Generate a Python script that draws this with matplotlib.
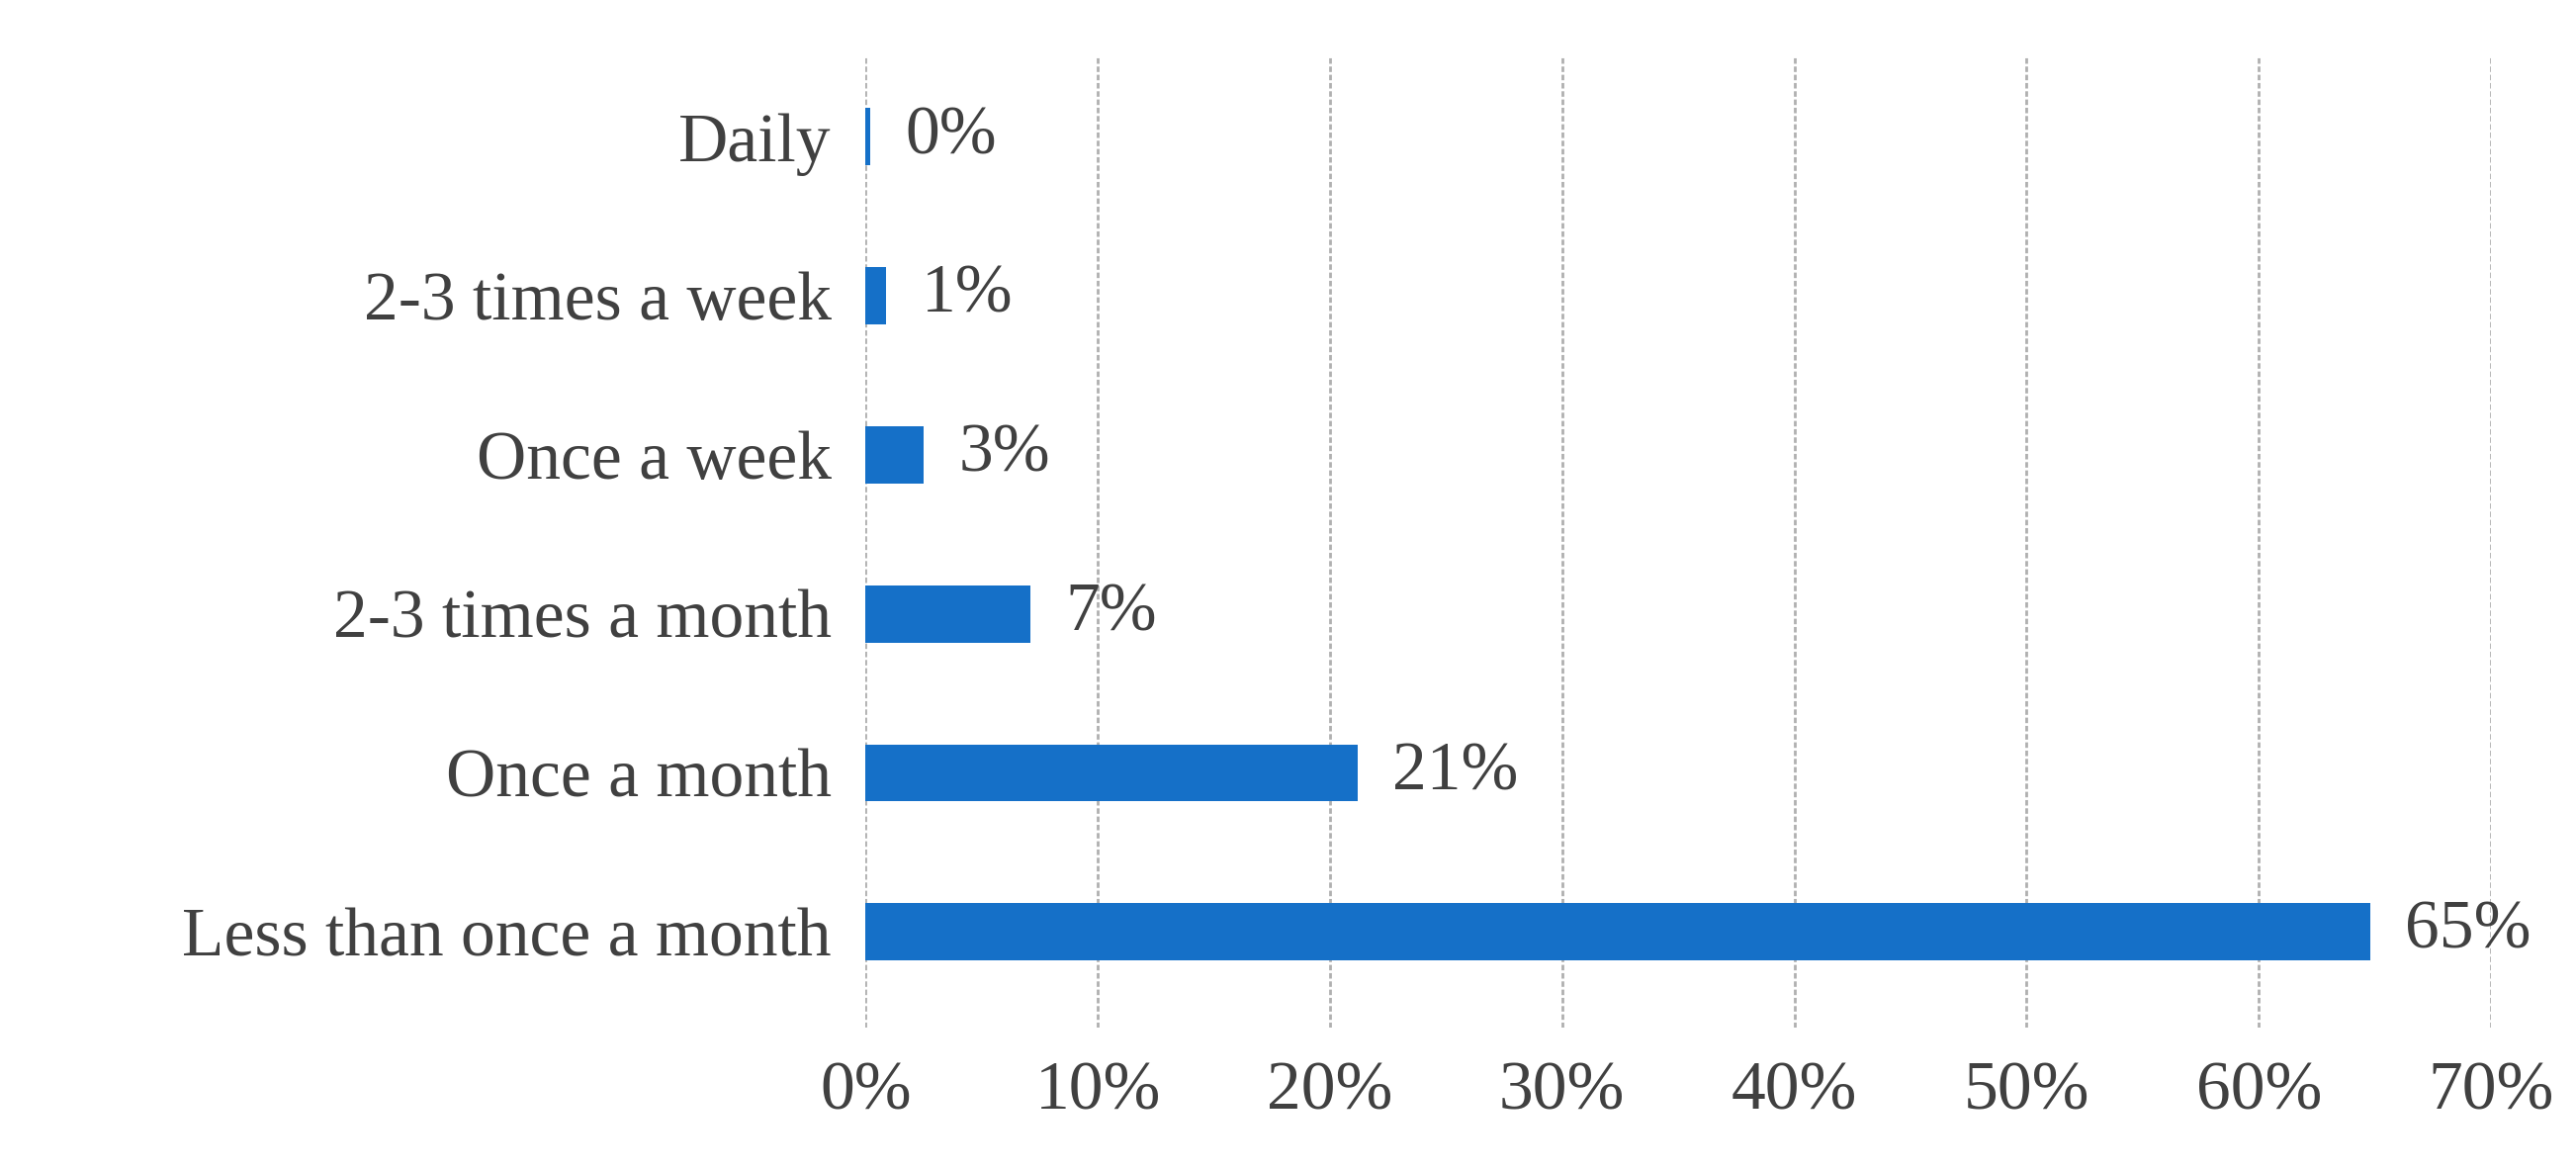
import matplotlib
matplotlib.use("Agg")
import matplotlib.pyplot as plt

categories = ["Less than once a month", "Once a month", "2-3 times a month", "Once a week", "2-3 times a week", "Daily"]
values = [64.8, 21.2, 7.1, 2.5, 0.9, 0.2]
labels = ["65%", "21%", "7%", "3%", "1%", "0%"]

plt.rcParams['font.family'] = ['Liberation Serif', 'DejaVu Serif']
fig = plt.figure(figsize=(26.05, 11.83), dpi=100)
ax = fig.add_axes([0.336, 0.122, 0.631, 0.829])
y = range(len(categories))
ax.barh(y, values, height=0.36, color="#1570c8", zorder=3)
for i, (v, l) in enumerate(zip(values, labels)):
    ax.text(v + 1.5, i, l, va="center", ha="left", fontsize=50, color="#404040")
ax.set_yticks(list(y))
ax.set_yticklabels(categories, fontsize=50, color="#404040")
ax.set_xlim(0, 70)
ax.set_ylim(-0.6, 5.5)
ax.set_xticks(range(0, 71, 10))
ax.set_xticklabels([f"{t}%" for t in range(0, 71, 10)], fontsize=50, color="#404040")
ax.grid(axis="x", linestyle=(0, (2, 1)), color="#b0b0b0", linewidth=2, zorder=0)
ax.tick_params(length=0, pad=25)
for s in ax.spines.values():
    s.set_visible(False)
fig.savefig("out.png", dpi=100)
